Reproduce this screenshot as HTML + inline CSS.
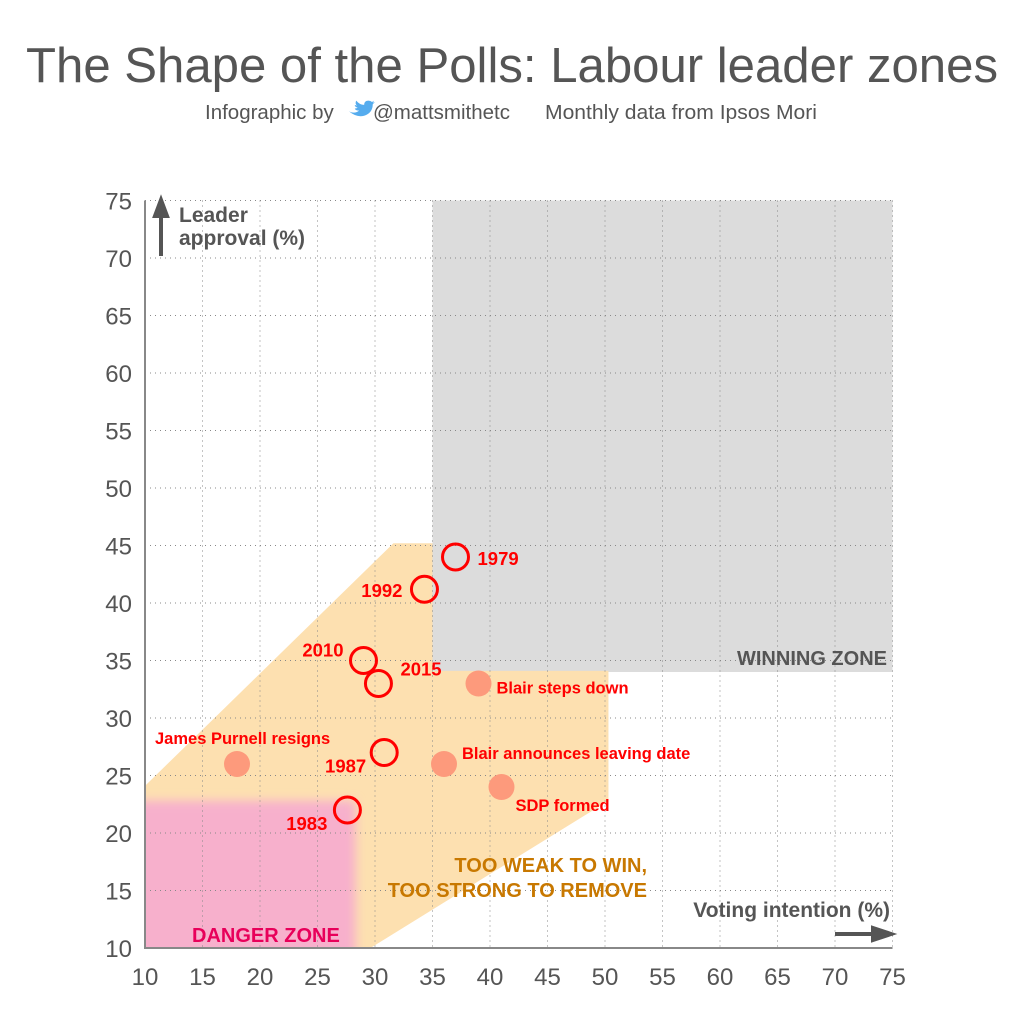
<!DOCTYPE html>
<html><head><meta charset="utf-8"><style>
body{margin:0;background:#fff;}
svg text{font-family:"Liberation Sans",sans-serif;}
</style></head><body>
<svg id="c" width="1024" height="1024" viewBox="0 0 1024 1024">
<defs><filter id="bl" x="-20%" y="-20%" width="140%" height="140%"><feGaussianBlur stdDeviation="5"/></filter>
<clipPath id="pc"><rect x="145" y="150" width="760" height="798"/></clipPath></defs>
<text x="512" y="82" text-anchor="middle" font-size="49" fill="#555" textLength="972" lengthAdjust="spacingAndGlyphs">The Shape of the Polls: Labour leader zones</text>
<text x="205" y="119" font-size="20.5" fill="#555">Infographic by</text>
<path transform="translate(349,97) scale(0.72)" d="M0 20 q8 4 14 -1 q-5 0 -6 -3 q3 0 4 -1 q-4 -1 -4 -4 q2 1 3 1 q-3 -3 -1 -7 q5 6 11 6 q0 -6 6 -6 q3 0 5 2 l3 -2 l-2 3 l3 -1 l-3 3 q0 12 -12 16 q-10 3 -21 -6z" fill="#55acee"/>
<text x="373" y="119" font-size="20.5" fill="#555">@mattsmithetc</text>
<text x="545" y="119" font-size="20.5" fill="#555" textLength="272" lengthAdjust="spacingAndGlyphs">Monthly data from Ipsos Mori</text>
<g id="zones" clip-path="url(#pc)"></g>
<g id="grid"></g>
<g id="marks"></g>
<g id="axes"></g>
</svg>
<script>
const xTicks=[10,15,20,25,30,35,40,45,50,55,60,65,70,75];
const yTicks=[10,15,20,25,30,35,40,45,50,55,60,65,70,75];
const hollowLabels=["1979","1992","2010","2015","1987","1983"];
const hollowX=[37,34.3,29,30.3,30.8,27.6];
const hollowY=[44,41.2,35,33,27,22];
const eventLabels=["James Purnell resigns","Blair steps down","Blair announces leaving date","SDP formed"];
const eventX=[18,39,36,41];
const eventY=[26,33,26,24];
const X=v=>145+(v-10)*11.5, Y=v=>948-(v-10)*11.5;
const NS="http://www.w3.org/2000/svg";
function mk(tag,attrs,parent,txt){const e=document.createElementNS(NS,tag);for(const k in attrs)e.setAttribute(k,attrs[k]);if(txt!==undefined)e.textContent=txt;document.getElementById(parent).appendChild(e);return e;}
let e=mk('rect',{x:X(35),y:Y(75),width:X(75)-X(35),height:Y(34)-Y(75),fill:'#dcdcdc'},'zones');


const poly=[[10,24.1],[31.6,45.2],[35,45.2],[35,34.1],[50.3,34.1],[50.3,22.8],[29.6,10],[10,10]];
e=mk('polygon',{points:poly.map(p=>X(p[0])+','+Y(p[1])).join(' '),fill:'#fde0b0'},'zones');


e=mk('rect',{x:X(5),y:Y(22.8),width:X(28.3)-X(5),height:Y(5)-Y(22.8),fill:'#f7b0cc',filter:'url(#bl)'},'zones');


xTicks.slice(1).forEach(t=>{const g=mk('line',{x1:X(t),x2:X(t),y1:Y(75),y2:Y(10),stroke:'#888','stroke-width':1,'stroke-dasharray':'1 4'},'grid');});
yTicks.slice(1).forEach(t=>{const g=mk('line',{x1:X(10),x2:X(75),y1:Y(t),y2:Y(t),stroke:'#888','stroke-width':1,'stroke-dasharray':'1 4'},'grid');});
e=mk('line',{x1:X(10),x2:X(10),y1:Y(75),y2:Y(10)+1,stroke:'#888','stroke-width':2},'axes');


e=mk('line',{x1:X(10)-1,x2:X(75),y1:Y(10),y2:Y(10),stroke:'#888','stroke-width':2},'axes');


xTicks.forEach(t=>{const g=mk('text',{x:X(t),y:985,'text-anchor':'middle','font-size':24,fill:'#555'},'axes',t);});
yTicks.forEach(t=>{const g=mk('text',{x:132,y:Y(t)+9,'text-anchor':'end','font-size':24,fill:'#555'},'axes',t);});
const hlOff=[[22,8,'start'],[-22,8,'end'],[-20,-4,'end'],[22,-8,'start'],[-18,20,'end'],[-20,20,'end']];
hollowX.forEach((v,i)=>{const c=mk('circle',{cx:X(v),cy:Y(hollowY[i]),r:13,fill:'none',stroke:'#f00','stroke-width':3},'marks');
const o=hlOff[i];const t=mk('text',{x:X(v)+o[0],y:Y(hollowY[i])+o[1],'text-anchor':o[2],'font-size':18.5,'font-weight':'bold',fill:'#f00'},'marks',hollowLabels[i]);});
const evOff=[[-82,-20,'start'],[18,10,'start'],[18,-5,'start'],[14,24,'start']];
eventX.forEach((v,i)=>{const c=mk('circle',{cx:X(v),cy:Y(eventY[i]),r:13,fill:'#fd9a7c'},'marks');
const o=evOff[i];const t=mk('text',{x:X(v)+o[0],y:Y(eventY[i])+o[1],'text-anchor':o[2],'font-size':16.5,'font-weight':'bold',fill:'#f00'},'marks',eventLabels[i]);});
const zl=[['WINNING ZONE',887,665,'end','#555','winning-zone-label'],['TOO WEAK TO WIN,',647,872,'end','#c87800','too-weak-label-1'],['TOO STRONG TO REMOVE',647,897,'end','#c87800','too-weak-label-2'],['DANGER ZONE',192,942,'start','#e8005a','danger-zone-label']];
zl.forEach(z=>{const t=mk('text',{x:z[1],y:z[2],'text-anchor':z[3],'font-size':20,'font-weight':'bold',fill:z[4]},'marks',z[0]);});
e=mk('text',{x:179,y:222,'font-size':21,'font-weight':'bold',fill:'#555'},'marks','Leader');


e=mk('text',{x:179,y:245,'font-size':21,'font-weight':'bold',fill:'#555'},'marks','approval (%)');


e=mk('path',{d:'M161 256 V208 M155 216 L161 200 L167 216 Z',stroke:'#555','stroke-width':4,fill:'#555'},'marks');


e=mk('text',{x:890,y:917,'text-anchor':'end','font-size':21,'font-weight':'bold',fill:'#555'},'marks','Voting intention (%)');


e=mk('path',{d:'M835 934 H878 M873 928 L891 934 L873 940 Z',stroke:'#555','stroke-width':4,fill:'#555'},'marks');


</script>
</body></html>
